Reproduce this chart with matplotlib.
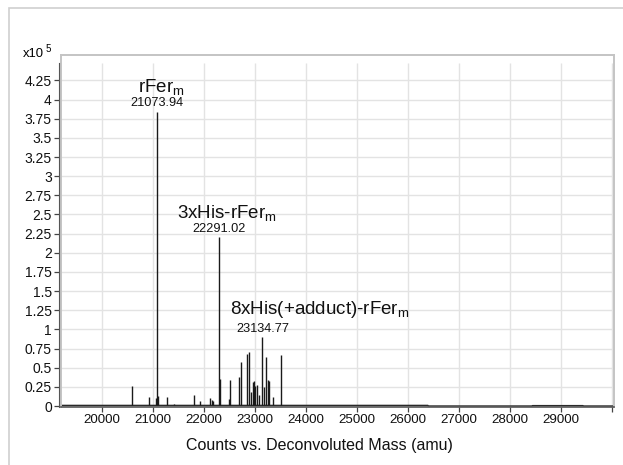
import numpy as np
import matplotlib
matplotlib.use("Agg")
import matplotlib.pyplot as plt
from matplotlib.patches import Rectangle

plt.rcParams['font.family'] = ['Liberation Sans', 'DejaVu Sans']
plt.rcParams['mathtext.fontset'] = 'custom'
plt.rcParams['mathtext.rm'] = 'Liberation Sans'
plt.rcParams['mathtext.it'] = 'Liberation Sans:italic'

# deconvoluted peaks (mass in amu, counts x1e5)
peak_mass = [20594, 20927, 21050, 21073.94, 21095, 21275, 21418, 21804, 21922,
             22118, 22157, 22176, 22291.02, 22314, 22484, 22516, 22686, 22719,
             22843, 22882, 22922, 22954, 22980, 23006, 23046, 23085, 23134.77,
             23183, 23209, 23248, 23274, 23359, 23503, 23680]
peak_height = [0.26, 0.12, 0.10, 3.84, 0.13, 0.12, 0.02, 0.15, 0.07,
               0.11, 0.08, 0.06, 2.21, 0.35, 0.09, 0.34, 0.38, 0.57,
               0.68, 0.71, 0.18, 0.31, 0.32, 0.26, 0.28, 0.15, 0.90,
               0.25, 0.64, 0.34, 0.32, 0.12, 0.67, 0.01]

# baseline of the trace
base_mass = [19196, 26390, 26400, 28430, 28440, 29430, 29440, 30039]
base_level = [0.008, 0.008, 0.0, 0.0, 0.005, 0.005, 0.0, 0.0]

# labelled peaks
labels = ['rFer$_{\\mathrm{m}}$', '3xHis-rFer$_{\\mathrm{m}}$', '8xHis(+adduct)-rFer$_{\\mathrm{m}}$']
label_pos = [(20700, 4.10), (21471, 2.46), (22510, 1.20)]
mass_labels = ['21073.94', '22291.02', '23134.77']
mass_label_pos = [(21078, 3.95), (22304, 2.31), (23147, 1.01)]

xticks = np.arange(20000, 30001, 1000)
yticks = np.arange(0, 4.26, 0.25)

fig = plt.figure(figsize=(6.23, 4.65), dpi=100)
ax = fig.add_axes([61 / 623, 1 - 407 / 465, 553 / 623, 352 / 465])
ax.set_xlim(19196, 30039)
ax.set_ylim(-0.013, 4.582)
ytop = 4.48

# grid
for t in yticks:
    ax.axhline(t, color='#e3e3e3', lw=1.0, zorder=0)
ax.vlines(xticks, -0.013, ytop, color='#e3e3e3', lw=1.0, zorder=0)

# trace
ax.plot(base_mass, base_level, color='#2a2a2a', lw=1.0)
base_under = np.interp(peak_mass, base_mass, base_level)
ax.vlines(peak_mass, base_under, peak_height, color='#1a1a1a', lw=1.0)

for txt, (x, y) in zip(labels, label_pos):
    ax.text(x, y, txt, fontsize=13.5, ha='left', va='baseline', color='#111')
for txt, (x, y) in zip(mass_labels, mass_label_pos):
    ax.text(x, y, txt, fontsize=9.2, ha='center', va='center', color='#111')

ax.set_xticks(xticks)
ax.set_xticklabels([str(t) if t < 30000 else '' for t in xticks], fontsize=9.6)
ax.set_yticks(yticks)
ax.set_yticklabels(['%g' % t for t in yticks], fontsize=9.6)
ax.tick_params(axis='both', direction='out', length=3.6, width=0.9,
               color='#444', labelcolor='#111', pad=1.5)

for s in ['top', 'right']:
    ax.spines[s].set_color('#c4c4c4')
    ax.spines[s].set_linewidth(1.4)
ax.spines['left'].set_position(('outward', 1.5))
ax.spines['left'].set_bounds(-0.013, ytop)
ax.spines['left'].set_color('#555')
ax.spines['bottom'].set_color('#555')
ax.spines['bottom'].set_linewidth(1.2)
# light frame on the left side of the plot box
ax.plot([0, 0], [0, 1], transform=ax.transAxes, color='#c4c4c4', lw=1.4, clip_on=False)

fig.text(22.7 / 623, 1 - 56.7 / 465, 'x10', fontsize=9.4, ha='left', va='baseline')
fig.text(45.5 / 623, 1 - 51.5 / 465, '5', fontsize=7, ha='left', va='baseline')
fig.text(319.5 / 623, 1 - 450 / 465, 'Counts vs. Deconvoluted Mass (amu)',
         fontsize=11.5, ha='center', va='baseline', color='#111')

# outer panel border
fig.patches.append(Rectangle((9 / 623, -0.1), 1.2, 1 - 8 / 465 + 0.1,
                             transform=fig.transFigure, fill=False,
                             edgecolor='#cfcfcf', lw=1.2))

fig.savefig('out.png', dpi=100)
